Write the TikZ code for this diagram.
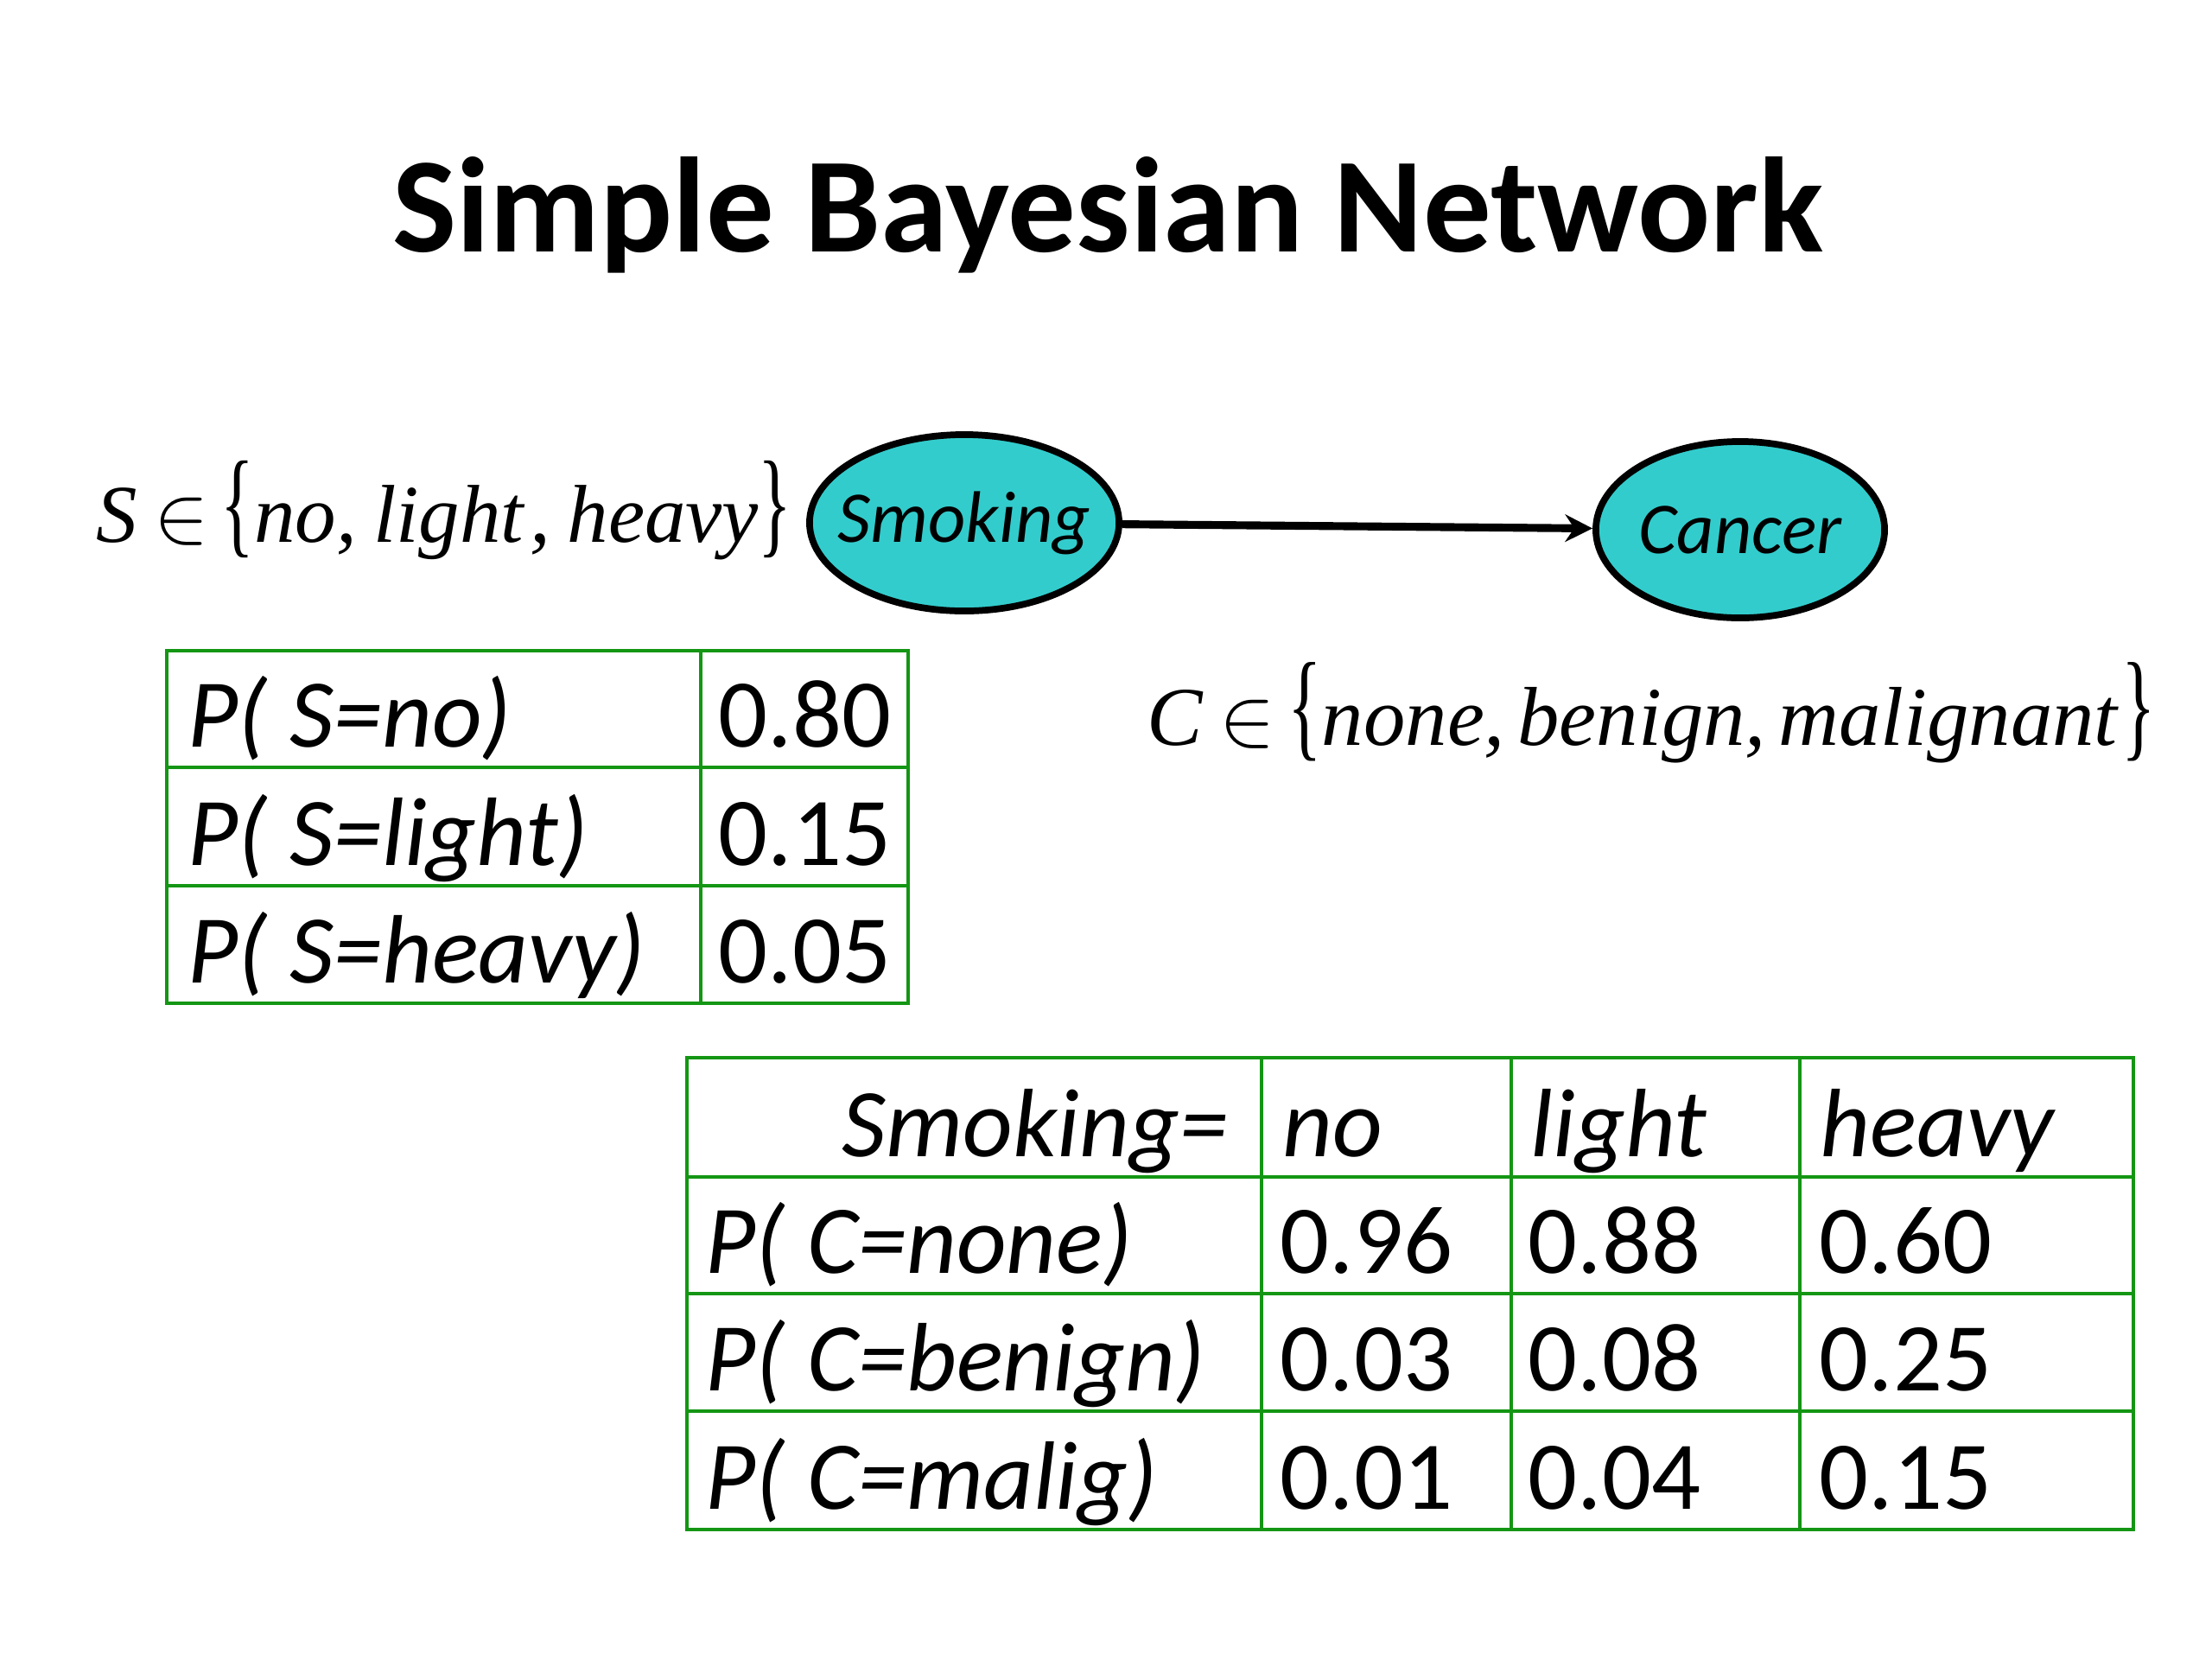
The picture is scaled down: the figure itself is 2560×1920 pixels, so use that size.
\documentclass[tikz,border=0pt]{standalone}
\usepackage{fix-cm}
\usepackage{fontspec}
\setmainfont{Carlito}
\newfontfamily\timesf{Liberation Serif}
\usetikzlibrary{shapes.geometric,arrows.meta}
\definecolor{tgreen}{RGB}{20,150,20}
\definecolor{turq}{RGB}{51,204,204}
\newcommand\lbrc{\scalebox{0.85}[1.43]{\upshape\{}}
\newcommand\rbrc{\scalebox{0.85}[1.43]{\upshape\}}}
\begin{document}
\begin{tikzpicture}[x=0.01cm,y=-0.01cm,
  bnode/.style={ellipse,draw=black,line width=2.2pt,fill=turq,inner sep=0pt,font=\fontsize{24}{28}\selectfont\itshape},
  gridline/.style={draw=tgreen,line width=1.2pt},
  cell/.style={anchor=base west,inner sep=0pt,font=\fontsize{32}{36}\selectfont\itshape},
  num/.style={anchor=base west,inner sep=0pt,font=\fontsize{32}{36}\selectfont},
  setlbl/.style={anchor=base west,inner sep=0pt,font=\fontsize{27}{30}\selectfont\timesf\itshape},
]
\useasboundingbox (0,0) rectangle (2560,1920);
\fill[white] (0,0) rectangle (2560,1920);

\node[anchor=base,inner sep=0pt,font=\fontsize{44.6}{50}\selectfont\bfseries] (title) at (1282,291) {Simple Bayesian Network};

\node[bnode,minimum width=3.58cm,minimum height=2.04cm] (smoking) at (1116,605) {\makebox[0pt]{Smoking}};
\node[bnode,minimum width=3.34cm,minimum height=2.04cm] (cancer) at (2014,613) {\makebox[0pt]{Cancer}};
\draw[line width=2.6pt,-{Stealth[length=9pt,width=9pt,inset=3pt]}] (smoking) -- (cancer);

\node[setlbl] (sset) at (111,627) {S\kern0.2em$\in$\kern0.15em\lbrc no,\kern0.2em light\kern0.08em,\kern0.2em heavy\rbrc};
\node[setlbl,font=\fontsize{27.5}{30}\selectfont\timesf\itshape] (cset) at (1327,862) {C\kern0.2em$\in$\kern0.15em\lbrc none,\kern0.15em benign,\kern0.15em malignant\kern0.05em\rbrc};

% table 1
\draw[gridline] (193,753) rectangle (1051,1161);
\draw[gridline] (811,753) -- (811,1161);
\draw[gridline] (193,888) -- (1051,888);
\draw[gridline] (193,1025) -- (1051,1025);
\node[cell] (p1) at (217,864) {P( S=no)};
\node[cell] (p2) at (217,1001) {P( S=light)};
\node[cell] (p3) at (217,1137) {P( S=heavy)};
\node[num] (v1) at (831,864) {0.80};
\node[num] (v2) at (831,1001) {0.15};
\node[num] (v3) at (831,1137) {0.05};

% table 2
\draw[gridline] (795,1224) rectangle (2469,1770);
\foreach \xx in {1460,1749,2083} \draw[gridline] (\xx,1224) -- (\xx,1770);
\foreach \yy in {1362,1497,1633} \draw[gridline] (795,\yy) -- (2469,\yy);
\node[cell,anchor=base east] (hs) at (1422,1338) {Smoking=};
\node[cell] (hno) at (1484,1338) {no};
\node[cell] (hli) at (1771,1338) {light};
\node[cell] (hhe) at (2106,1338) {heavy};
\node[cell] (c1) at (816,1473) {P( C=none)};
\node[cell] (c2) at (816,1609) {P( C=benign)};
\node[cell] (c3) at (816,1746) {P( C=malig)};
\node[num] (a1) at (1481,1473) {0.96};
\node[num] (b1) at (1768,1473) {0.88};
\node[num] (d1) at (2105,1473) {0.60};
\node[num] (a2) at (1481,1609) {0.03};
\node[num] (b2) at (1768,1609) {0.08};
\node[num] (d2) at (2105,1609) {0.25};
\node[num] (a3) at (1481,1746) {0.01};
\node[num] (b3) at (1768,1746) {0.04};
\node[num] (d3) at (2105,1746) {0.15};
\end{tikzpicture}
\end{document}
